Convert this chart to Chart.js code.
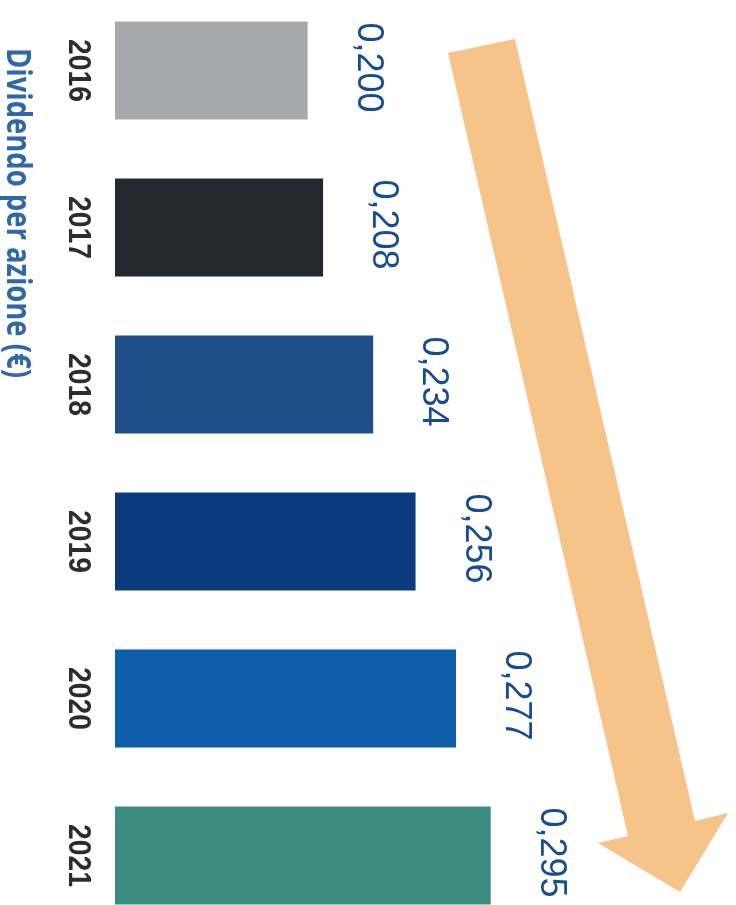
<!DOCTYPE html>
<html>
<head>
<meta charset="utf-8">
<script src="https://cdn.jsdelivr.net/npm/chart.js@4.4.1/dist/chart.umd.min.js"></script>
<style>
    html, body { margin: 0; padding: 0; background: #fff; overflow: hidden; }
    body { width: 736px; height: 905px; position: relative; }
    #wrap { position: absolute; left: 0; top: -8px; width: 736px; height: 942px; }
</style>
</head>
<body>
<div id="wrap"><canvas id="dividendChart"></canvas></div>
<script>
// --- Dati ---
const years = ['2016', '2017', '2018', '2019', '2020', '2021'];
const dividends = [0.200, 0.208, 0.234, 0.256, 0.277, 0.295];
const valueLabels = ['0,200', '0,208', '0,234', '0,256', '0,277', '0,295'];
const barColors = ['#a8a9ab', '#23272e', '#1e4f8b', '#0c3a7e', '#0e5eac', '#3b8b7f'];
const axisTitle = 'Dividendo per azione (€)';

// testo ruotato di 90° in senso orario
function rotatedText(ctx, text, x, y, font, color, align, targetWidth) {
    ctx.save();
    ctx.translate(x, y);
    ctx.rotate(Math.PI / 2);
    ctx.font = font;
    ctx.fillStyle = color;
    ctx.textAlign = align;
    ctx.textBaseline = 'alphabetic';
    if (targetWidth) {
        const w = ctx.measureText(text).width;
        ctx.scale(targetWidth / w, 1);
    }
    ctx.fillText(text, 0, 0);
    ctx.restore();
}

const decorations = {
    id: 'decorations',
    beforeDatasetsDraw(chart) {
        // freccia arancione
        const ctx = chart.ctx;
        const pts = [[448, 53], [515, 39], [695, 821], [728, 813], [680, 892], [598, 843], [628, 836]];
        ctx.save();
        ctx.fillStyle = '#f6c389';
        ctx.beginPath();
        pts.forEach((p, i) => i ? ctx.lineTo(p[0], p[1] + 8) : ctx.moveTo(p[0], p[1] + 8));
        ctx.closePath();
        ctx.fill();
        ctx.restore();
    },
    afterDatasetsDraw(chart) {
        const ctx = chart.ctx;
        const bars = chart.getDatasetMeta(0).data;
        bars.forEach((bar, i) => {
            const top = bar.y - bar.height / 2;
            rotatedText(ctx, valueLabels[i], bar.x + 50, top + 1,
                '36px "Liberation Sans", Arial, sans-serif', '#154c94', 'left');
            rotatedText(ctx, years[i], 69, bar.y,
                'bold 32px "Liberation Sans", Arial, sans-serif', '#2c2c2c', 'center', 63);
        });
        rotatedText(ctx, axisTitle, 7, 56,
            'bold 34px "Open Sans", "Liberation Sans", sans-serif', '#2f68a8', 'left', 330);
    }
};

document.addEventListener('DOMContentLoaded', function () {
    const ctx = document.getElementById('dividendChart');
    new Chart(ctx, {
        type: 'bar',
        data: {
            labels: years,
            datasets: [{
                data: dividends,
                backgroundColor: barColors,
                borderWidth: 0,
                barPercentage: 0.624,
                categoryPercentage: 1
            }]
        },
        options: {
            indexAxis: 'y',
            responsive: true,
            maintainAspectRatio: false,
            animation: false,
            layout: { padding: { left: 115, right: 43, top: 0, bottom: 0 } },
            plugins: {
                legend: { display: false },
                tooltip: { enabled: false }
            },
            scales: {
                x: { display: false, min: 0.1, max: 0.4 },
                y: { display: false }
            }
        },
        plugins: [decorations]
    });
});
</script>
</body>
</html>
